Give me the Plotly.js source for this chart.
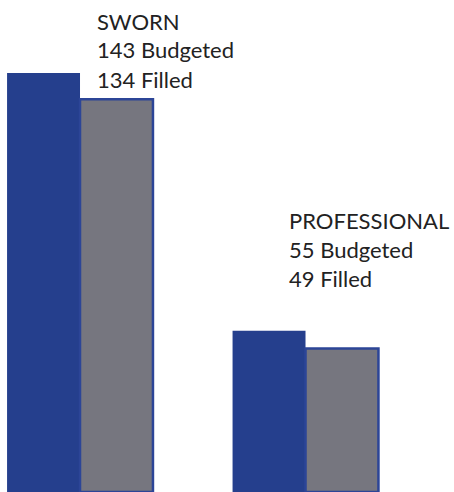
<!DOCTYPE html>
<html>
<head>
<meta charset="utf-8">
<script src="https://cdn.plot.ly/plotly-3.0.1.min.js"></script>
<style>html,body{margin:0;padding:0;background:#fff;}#chart{width:454px;height:492px;}</style>
</head>
<body>
<div id="chart"></div>
<script>
const groups = ["SWORN", "PROFESSIONAL"];
const budgeted = [143, 55];
const filled = [134, 49];

const BLUE = "#253f8d";
const GRAY = "#76767f";
const FONT = "Lato, 'Open Sans', sans-serif";

const traces = [
  {type: "bar", name: "Budgeted", x: groups, y: budgeted,
   marker: {color: BLUE, line: {width: 0}}, hoverinfo: "x+y+name"},
  {type: "bar", name: "Filled", x: groups, y: filled,
   marker: {color: GRAY, line: {color: "#2c4597", width: 2.5}}, hoverinfo: "x+y+name"}
];

// label positions (paper coords) per group
const labelX = [96 / 454, 288 / 454];
const labelTopPx = [21, 220];
const annotations = [];
groups.forEach((g, i) => {
  const lines = [g, budgeted[i] + " Budgeted", filled[i] + " Filled"];
  lines.forEach((t, j) => {
    annotations.push({
      xref: "paper", yref: "paper",
      x: labelX[i], y: 1 - (labelTopPx[i] + j * 29) / 492,
      xanchor: "left", yanchor: "middle",
      text: t, showarrow: false, align: "left",
      borderpad: 0,
      font: {family: FONT, size: 22, color: "#222222"}
    });
  });
});

const layout = {
  width: 454, height: 492,
  margin: {l: 0, r: 0, t: 0, b: 0},
  paper_bgcolor: "#ffffff", plot_bgcolor: "#ffffff",
  barmode: "group", bargap: 0.353, bargroupgap: 0,
  showlegend: false,
  xaxis: {type: "category", range: [-0.3548, 1.6585], visible: false, fixedrange: true},
  yaxis: {range: [0, 167.9], visible: false, fixedrange: true},
  annotations: annotations
};

Plotly.newPlot("chart", traces, layout, {displayModeBar: false, staticPlot: true});
</script>
</body>
</html>
